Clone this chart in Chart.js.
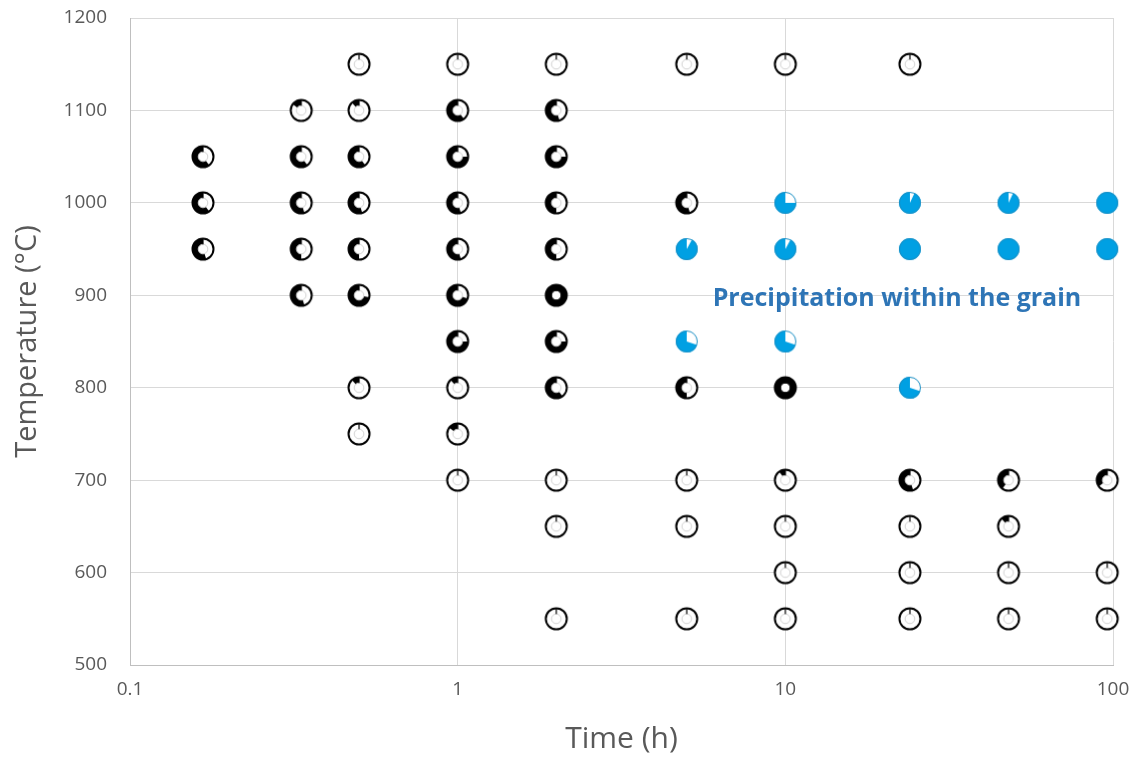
<!DOCTYPE html>
<html>
<head>
<meta charset="utf-8">
<script src="https://cdn.jsdelivr.net/npm/chart.js@4"></script>
<style>
  html, body { margin: 0; padding: 0; background: #fff; }
  .container { width: 1137px; height: 757px; }
</style>
</head>
<body>
<div class="container"><canvas id="chart" width="1137" height="757"></canvas></div>
<script>
// boundary precipitation markers (black, fraction = filled share)
const bTime = [0.167, 0.167, 0.167,
  0.333, 0.333, 0.333, 0.333, 0.333,
  0.5, 0.5, 0.5, 0.5, 0.5, 0.5, 0.5, 0.5,
  1, 1, 1, 1, 1, 1, 1, 1, 1, 1,
  2, 2, 2, 2, 2, 2, 2, 2, 2, 2, 2,
  5, 5, 5, 5, 5, 5,
  10, 10, 10, 10, 10, 10,
  24, 24, 24, 24, 24,
  48, 48, 48, 48,
  96, 96, 96];
const bTemp = [1050, 1000, 950,
  1100, 1050, 1000, 950, 900,
  1150, 1100, 1050, 1000, 950, 900, 800, 750,
  1150, 1100, 1050, 1000, 950, 900, 850, 800, 750, 700,
  1150, 1100, 1050, 1000, 950, 900, 850, 800, 700, 650, 550,
  1150, 1000, 800, 700, 650, 550,
  1150, 800, 700, 650, 600, 550,
  1150, 700, 650, 600, 550,
  700, 650, 600, 550,
  700, 600, 550];
const bFrac = [0.6, 0.6, 0.55,
  0.15, 0.6, 0.55, 0.5, 0.55,
  0, 0.12, 0.6, 0.55, 0.5, 0.72, 0.12, 0,
  0, 0.6, 0.75, 0.55, 0.55, 0.7, 0.75, 0.12, 0.15, 0,
  0, 0.55, 0.75, 0.5, 0.5, 1, 0.75, 0.6, 0, 0, 0,
  0, 0.55, 0.5, 0, 0, 0,
  0, 1, 0.1, 0, 0, 0,
  0, 0.55, 0, 0, 0,
  0.4, 0.12, 0, 0,
  0.35, 0, 0];

// precipitation within the grain (blue)
const gTime = [5, 5, 10, 10, 10, 24, 24, 24, 48, 48, 96, 96];
const gTemp = [950, 850, 1000, 950, 850, 1000, 950, 800, 1000, 950, 1000, 950];
const gFrac = [0.92, 0.7, 0.75, 0.92, 0.7, 0.93, 1, 0.7, 0.93, 1, 1, 1];

const xTicks = [0.1, 1, 10, 100];
const noteText = 'Precipitation within the grain';
const noteAt = { x: 6, y: 900 };

const gray = '#595959';
const font = '"Open Sans", sans-serif';

function blackMarker(frac) {
  const c = document.createElement('canvas');
  c.width = 26; c.height = 26;
  const g = c.getContext('2d');
  const cx = 13, cy = 13, R = 10.5, r = 4.8;
  const start = -Math.PI / 2;
  g.fillStyle = '#fff';
  g.beginPath(); g.arc(cx, cy, R, 0, Math.PI * 2); g.fill();
  if (frac > 0) {
    const end = start - frac * Math.PI * 2;
    g.fillStyle = '#000';
    g.beginPath();
    g.arc(cx, cy, R, start, end, true);
    g.arc(cx, cy, r, end, start, false);
    g.closePath();
    g.fill();
  }
  // inner hole outline
  g.strokeStyle = frac >= 1 ? '#000' : '#d4d4d4';
  g.lineWidth = 1;
  g.beginPath(); g.arc(cx, cy, r, 0, Math.PI * 2); g.stroke();
  // slice edge at twelve o'clock
  g.strokeStyle = '#000';
  g.lineWidth = 1.2;
  g.beginPath(); g.moveTo(cx, cy - r); g.lineTo(cx, cy - R); g.stroke();
  g.lineWidth = 2;
  g.beginPath(); g.arc(cx, cy, R, 0, Math.PI * 2); g.stroke();
  return c;
}

function blueMarker(frac) {
  const c = document.createElement('canvas');
  c.width = 26; c.height = 26;
  const g = c.getContext('2d');
  const cx = 13, cy = 13, R = 11;
  const start = -Math.PI / 2;
  g.fillStyle = '#fff';
  g.beginPath(); g.arc(cx, cy, R, 0, Math.PI * 2); g.fill();
  g.fillStyle = '#00a0e3';
  g.beginPath();
  if (frac >= 1) {
    g.arc(cx, cy, R, 0, Math.PI * 2);
  } else {
    g.moveTo(cx, cy);
    g.arc(cx, cy, R, start, start - frac * Math.PI * 2, true);
    g.closePath();
  }
  g.fill();
  g.strokeStyle = '#1b8fc4';
  g.lineWidth = 1;
  g.beginPath(); g.arc(cx, cy, R - 0.5, 0, Math.PI * 2); g.stroke();
  return c;
}

const bMarkers = bFrac.map(blackMarker);
const gMarkers = gFrac.map(blueMarker);

const notePlugin = {
  id: 'note',
  afterDatasetsDraw(chart) {
    const { ctx, scales } = chart;
    ctx.save();
    ctx.font = 'bold 25px ' + font;
    ctx.fillStyle = '#2e75b6';
    ctx.textAlign = 'left';
    ctx.textBaseline = 'middle';
    ctx.fillText(noteText, scales.x.getPixelForValue(noteAt.x), scales.y.getPixelForValue(noteAt.y) + 4);
    ctx.restore();
  }
};

new Chart(document.getElementById('chart'), {
  type: 'scatter',
  data: {
    datasets: [{
      label: 'Grain boundary',
      data: bTime.map((t, i) => ({ x: t, y: bTemp[i] })),
      pointStyle: ctx => bMarkers[ctx.dataIndex],
      pointRadius: 11
    }, {
      label: 'Within the grain',
      data: gTime.map((t, i) => ({ x: t, y: gTemp[i] })),
      pointStyle: ctx => gMarkers[ctx.dataIndex],
      pointRadius: 11
    }]
  },
  options: {
    responsive: false,
    animation: false,
    clip: false,
    layout: { padding: { top: 18, right: 24, left: 0, bottom: 0 } },
    plugins: {
      legend: { display: false },
      tooltip: { enabled: false }
    },
    scales: {
      x: {
        type: 'logarithmic',
        min: 0.1,
        max: 100,
        afterBuildTicks: axis => { axis.ticks = xTicks.map(v => ({ value: v })); },
        afterFit: s => { s.height = 92; s.paddingLeft = 0; s.paddingRight = 0; },
        ticks: {
          color: gray,
          font: { family: font, size: 19 },
          padding: 13,
          maxRotation: 0,
          callback: v => String(v)
        },
        grid: { color: '#d9d9d9', drawTicks: false },
        border: { color: '#bfbfbf' },
        title: {
          display: true,
          text: 'Time (h)',
          color: gray,
          font: { family: font, size: 30 },
          padding: { top: 0, bottom: 0 }
        }
      },
      y: {
        min: 500,
        max: 1200,
        afterFit: s => { s.width = 130; s.paddingTop = 0; s.paddingBottom = 0; },
        ticks: {
          stepSize: 100,
          color: gray,
          font: { family: font, size: 19 },
          padding: 23,
          callback: v => String(v)
        },
        grid: { color: '#d9d9d9', drawTicks: false },
        border: { color: '#bfbfbf' },
        title: {
          display: true,
          text: 'Temperature (°C)',
          color: gray,
          font: { family: font, size: 29 },
          padding: { top: 10, bottom: 0 }
        }
      }
    }
  },
  plugins: [notePlugin]
});
</script>
</body>
</html>
